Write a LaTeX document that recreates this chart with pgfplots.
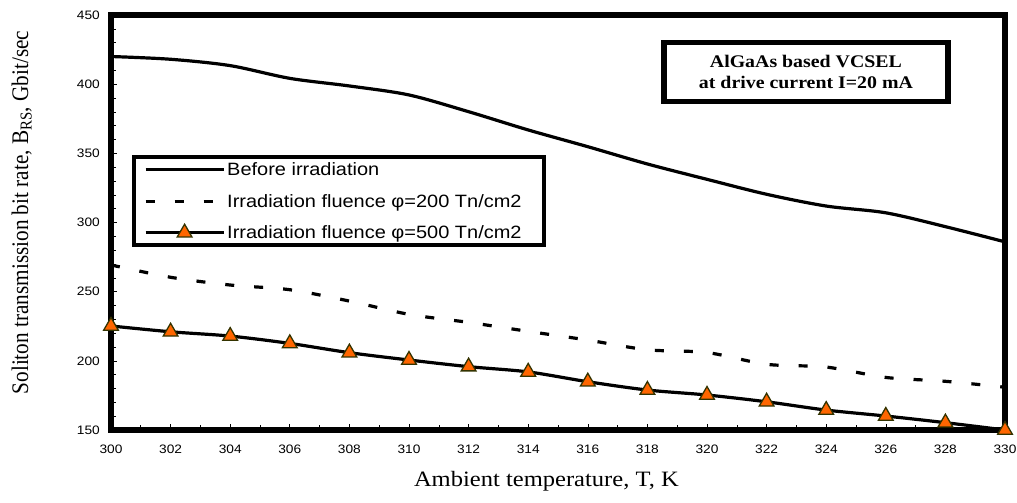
\documentclass[border=0pt]{standalone}
\usepackage{fontspec}
\setmainfont{Liberation Serif}
\newfontfamily\serifW{Liberation Serif}[FakeStretch=1.12]
\newfontfamily\sansW{Liberation Sans}[FakeStretch=1.12]
\usepackage{graphicx}
\usepackage{pgfplots}
\pgfplotsset{compat=1.18}
\definecolor{mkfill}{HTML}{FF6600}
\definecolor{mkdraw}{HTML}{333300}
\begin{document}
\begin{tikzpicture}
\begin{axis}[
  scale only axis, width=894bp, height=415bp,
  xmin=300, xmax=330, ymin=150, ymax=450,
  xtick={300,302,...,330}, ytick={150,200,...,450},
  minor x tick num=1, minor y tick num=4,
  tick align=inside, xtick pos=bottom, ytick pos=left,
  major tick length=6bp, minor tick length=5bp,
  tick style={black, line width=0.6bp},
  axis line style={line width=6bp},
  clip=false,
  /pgf/number format/assume math mode=true,
  ticklabel style={font=\sansW\fontsize{12.3}{14}\selectfont},
  xticklabel style={inner sep=0pt, anchor=north, yshift=-15bp},
  yticklabel style={inner sep=0pt, anchor=east, xshift=-11bp},
  xlabel={Ambient temperature, T, K},
  xlabel style={font=\serifW\fontsize{22}{26}\selectfont, at={(axis description cs:0.487,-0.1373)}, anchor=base},
  ylabel={\scalebox{1}[1.12]{Soliton transmission bit rate, B\textsubscript{RS}, Gbit/sec}},
  ylabel style={font=\fontsize{21.3}{25}\selectfont, at={(axis description cs:-0.0928,0.524)}, anchor=base},
  legend style={at={(rel axis cs:0.0235,0.6627)}, anchor=north west, draw=black, line width=4bp, fill=white,
    inner xsep=10bp, inner ysep=3bp, row sep=12bp,
    font=\sansW\fontsize{17.9}{21}\selectfont,
    nodes={inner sep=2bp}, cells={anchor=west}},
  legend image code/.code={\draw[mark repeat=2, mark phase=2, #1] plot coordinates {(0bp,0bp) (39bp,0bp) (78bp,0bp)};},
]
\addplot[black, line width=3.2bp, smooth] coordinates {
(300,420) (302,418) (304,413.4) (306,404.2) (308,398.7) (310,392.2) (312,380.1) (314,366.9)
(316,354.8) (318,342.3) (320,331.2) (322,320.4) (324,311.9) (326,307) (328,297) (330,286)};
\addlegendentry{\rule[-3.5bp]{0pt}{17.5bp}Before irradiation}
\addplot[black, line width=3.2bp, smooth, dash pattern=on 9bp off 20bp] coordinates {
(300,269.3) (302,260.4) (304,254.8) (306,251.4) (308,243.2) (310,233.6) (312,227.8) (314,221.3)
(316,215) (318,208) (320,206) (322,197.5) (324,195.5) (326,188) (328,185.2) (330,180.9)};
\addlegendentry{\rule[-3.5bp]{0pt}{17.5bp}Irradiation fluence φ=200 Tn/cm2\rule{10bp}{0pt}}
\addplot[black, line width=3.2bp, smooth, mark=triangle*, mark size=8.5bp,
  mark options={solid, fill=mkfill, draw=mkdraw, line width=1.3bp}] coordinates {
(300,225.2) (302,221) (304,217.9) (306,212.6) (308,205.9) (310,200.6) (312,195.8) (314,192)
(316,184.9) (318,178.9) (320,175.3) (322,170.4) (324,164.4) (326,160.1) (328,155.3) (330,150)};
\addlegendentry{\rule[-14bp]{0pt}{28bp}Irradiation fluence φ=500 Tn/cm2}
\node[draw=black, line width=5.5bp, fill=white, minimum width=284bp, minimum height=59bp,
  align=center, font=\bfseries\fontsize{17.8}{22}\selectfont]
  at (axis cs:323.32,408.8) {\scalebox{1.12}[1]{AlGaAs based VCSEL}\\\scalebox{1.12}[1]{at drive current I=20 mA}};
\coordinate (O) at (rel axis cs:0,0);
\end{axis}
\path (O) ++(-111bp,-73bp) rectangle ++(1017bp,503bp);
\end{tikzpicture}
\end{document}
